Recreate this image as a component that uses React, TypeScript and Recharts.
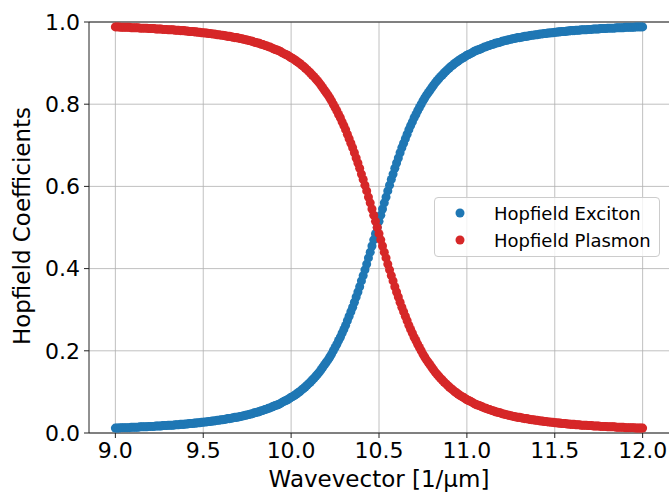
import { ScatterChart, Scatter, XAxis, YAxis, ZAxis, CartesianGrid, Legend, ReferenceLine } from "recharts"

// wavevector samples [1/um]
const wavevector = [
  9.0, 9.01, 9.02, 9.03, 9.04, 9.05, 9.06, 9.07, 9.08, 9.09,
  9.1, 9.11, 9.12, 9.13, 9.14, 9.15, 9.16, 9.17, 9.18, 9.19,
  9.2, 9.21, 9.22, 9.23, 9.24, 9.25, 9.26, 9.27, 9.28, 9.29,
  9.3, 9.31, 9.32, 9.33, 9.34, 9.35, 9.36, 9.37, 9.38, 9.39,
  9.4, 9.41, 9.42, 9.43, 9.44, 9.45, 9.46, 9.47, 9.48, 9.49,
  9.5, 9.51, 9.52, 9.53, 9.54, 9.55, 9.56, 9.57, 9.58, 9.59,
  9.6, 9.61, 9.62, 9.63, 9.64, 9.65, 9.66, 9.67, 9.68, 9.69,
  9.7, 9.71, 9.72, 9.73, 9.74, 9.75, 9.76, 9.77, 9.78, 9.79,
  9.8, 9.81, 9.82, 9.83, 9.84, 9.85, 9.86, 9.87, 9.88, 9.89,
  9.9, 9.91, 9.92, 9.93, 9.94, 9.95, 9.96, 9.97, 9.98, 9.99,
  10.0, 10.01, 10.02, 10.03, 10.04, 10.05, 10.06, 10.07, 10.08, 10.09,
  10.1, 10.11, 10.12, 10.13, 10.14, 10.15, 10.16, 10.17, 10.18, 10.19,
  10.2, 10.21, 10.22, 10.23, 10.24, 10.25, 10.26, 10.27, 10.28, 10.29,
  10.3, 10.31, 10.32, 10.33, 10.34, 10.35, 10.36, 10.37, 10.38, 10.39,
  10.4, 10.41, 10.42, 10.43, 10.44, 10.45, 10.46, 10.47, 10.48, 10.49,
  10.5, 10.51, 10.52, 10.53, 10.54, 10.55, 10.56, 10.57, 10.58, 10.59,
  10.6, 10.61, 10.62, 10.63, 10.64, 10.65, 10.66, 10.67, 10.68, 10.69,
  10.7, 10.71, 10.72, 10.73, 10.74, 10.75, 10.76, 10.77, 10.78, 10.79,
  10.8, 10.81, 10.82, 10.83, 10.84, 10.85, 10.86, 10.87, 10.88, 10.89,
  10.9, 10.91, 10.92, 10.93, 10.94, 10.95, 10.96, 10.97, 10.98, 10.99,
  11.0, 11.01, 11.02, 11.03, 11.04, 11.05, 11.06, 11.07, 11.08, 11.09,
  11.1, 11.11, 11.12, 11.13, 11.14, 11.15, 11.16, 11.17, 11.18, 11.19,
  11.2, 11.21, 11.22, 11.23, 11.24, 11.25, 11.26, 11.27, 11.28, 11.29,
  11.3, 11.31, 11.32, 11.33, 11.34, 11.35, 11.36, 11.37, 11.38, 11.39,
  11.4, 11.41, 11.42, 11.43, 11.44, 11.45, 11.46, 11.47, 11.48, 11.49,
  11.5, 11.51, 11.52, 11.53, 11.54, 11.55, 11.56, 11.57, 11.58, 11.59,
  11.6, 11.61, 11.62, 11.63, 11.64, 11.65, 11.66, 11.67, 11.68, 11.69,
  11.7, 11.71, 11.72, 11.73, 11.74, 11.75, 11.76, 11.77, 11.78, 11.79,
  11.8, 11.81, 11.82, 11.83, 11.84, 11.85, 11.86, 11.87, 11.88, 11.89,
  11.9, 11.91, 11.92, 11.93, 11.94, 11.95, 11.96, 11.97, 11.98, 11.99,
  12.0,
]

const hopfieldExciton = [
  0.012, 0.012, 0.012, 0.013, 0.013, 0.013, 0.013, 0.013, 0.013, 0.014,
  0.014, 0.014, 0.014, 0.014, 0.015, 0.015, 0.015, 0.015, 0.015, 0.016,
  0.016, 0.016, 0.016, 0.017, 0.017, 0.017, 0.017, 0.018, 0.018, 0.018,
  0.019, 0.019, 0.019, 0.019, 0.02, 0.02, 0.02, 0.021, 0.021, 0.021,
  0.022, 0.022, 0.023, 0.023, 0.023, 0.024, 0.024, 0.025, 0.025, 0.026,
  0.026, 0.027, 0.027, 0.028, 0.028, 0.029, 0.029, 0.03, 0.031, 0.031,
  0.032, 0.032, 0.033, 0.034, 0.035, 0.035, 0.036, 0.037, 0.038, 0.038,
  0.039, 0.04, 0.041, 0.042, 0.043, 0.044, 0.045, 0.046, 0.047, 0.049,
  0.05, 0.051, 0.052, 0.054, 0.055, 0.057, 0.058, 0.06, 0.061, 0.063,
  0.065, 0.067, 0.068, 0.07, 0.072, 0.075, 0.077, 0.079, 0.081, 0.084,
  0.087, 0.089, 0.092, 0.095, 0.098, 0.101, 0.105, 0.108, 0.112, 0.116,
  0.12, 0.124, 0.129, 0.133, 0.138, 0.143, 0.148, 0.154, 0.16, 0.166,
  0.172, 0.178, 0.185, 0.192, 0.2, 0.208, 0.216, 0.225, 0.233, 0.243,
  0.252, 0.262, 0.273, 0.284, 0.295, 0.306, 0.318, 0.331, 0.343, 0.356,
  0.37, 0.383, 0.397, 0.411, 0.426, 0.44, 0.455, 0.47, 0.485, 0.5,
  0.515, 0.53, 0.545, 0.56, 0.574, 0.589, 0.603, 0.617, 0.63, 0.644,
  0.657, 0.669, 0.682, 0.694, 0.705, 0.716, 0.727, 0.738, 0.748, 0.757,
  0.767, 0.775, 0.784, 0.792, 0.8, 0.808, 0.815, 0.822, 0.828, 0.834,
  0.84, 0.846, 0.852, 0.857, 0.862, 0.867, 0.871, 0.876, 0.88, 0.884,
  0.888, 0.892, 0.895, 0.899, 0.902, 0.905, 0.908, 0.911, 0.913, 0.916,
  0.919, 0.921, 0.923, 0.925, 0.928, 0.93, 0.932, 0.933, 0.935, 0.937,
  0.939, 0.94, 0.942, 0.943, 0.945, 0.946, 0.948, 0.949, 0.95, 0.951,
  0.953, 0.954, 0.955, 0.956, 0.957, 0.958, 0.959, 0.96, 0.961, 0.962,
  0.962, 0.963, 0.964, 0.965, 0.965, 0.966, 0.967, 0.968, 0.968, 0.969,
  0.969, 0.97, 0.971, 0.971, 0.972, 0.972, 0.973, 0.973, 0.974, 0.974,
  0.975, 0.975, 0.976, 0.976, 0.977, 0.977, 0.977, 0.978, 0.978, 0.979,
  0.979, 0.979, 0.98, 0.98, 0.98, 0.981, 0.981, 0.981, 0.981, 0.982,
  0.982, 0.982, 0.983, 0.983, 0.983, 0.983, 0.984, 0.984, 0.984, 0.984,
  0.985, 0.985, 0.985, 0.985, 0.985, 0.986, 0.986, 0.986, 0.986, 0.986,
  0.987, 0.987, 0.987, 0.987, 0.987, 0.987, 0.988, 0.988, 0.988, 0.988,
  0.988,
]

const hopfieldPlasmon = [
  0.988, 0.988, 0.988, 0.987, 0.987, 0.987, 0.987, 0.987, 0.987, 0.986,
  0.986, 0.986, 0.986, 0.986, 0.985, 0.985, 0.985, 0.985, 0.985, 0.984,
  0.984, 0.984, 0.984, 0.983, 0.983, 0.983, 0.983, 0.982, 0.982, 0.982,
  0.981, 0.981, 0.981, 0.981, 0.98, 0.98, 0.98, 0.979, 0.979, 0.979,
  0.978, 0.978, 0.977, 0.977, 0.977, 0.976, 0.976, 0.975, 0.975, 0.974,
  0.974, 0.973, 0.973, 0.972, 0.972, 0.971, 0.971, 0.97, 0.969, 0.969,
  0.968, 0.968, 0.967, 0.966, 0.965, 0.965, 0.964, 0.963, 0.962, 0.962,
  0.961, 0.96, 0.959, 0.958, 0.957, 0.956, 0.955, 0.954, 0.953, 0.951,
  0.95, 0.949, 0.948, 0.946, 0.945, 0.943, 0.942, 0.94, 0.939, 0.937,
  0.935, 0.933, 0.932, 0.93, 0.928, 0.925, 0.923, 0.921, 0.919, 0.916,
  0.913, 0.911, 0.908, 0.905, 0.902, 0.899, 0.895, 0.892, 0.888, 0.884,
  0.88, 0.876, 0.871, 0.867, 0.862, 0.857, 0.852, 0.846, 0.84, 0.834,
  0.828, 0.822, 0.815, 0.808, 0.8, 0.792, 0.784, 0.775, 0.767, 0.757,
  0.748, 0.738, 0.727, 0.716, 0.705, 0.694, 0.682, 0.669, 0.657, 0.644,
  0.63, 0.617, 0.603, 0.589, 0.574, 0.56, 0.545, 0.53, 0.515, 0.5,
  0.485, 0.47, 0.455, 0.44, 0.426, 0.411, 0.397, 0.383, 0.37, 0.356,
  0.343, 0.331, 0.318, 0.306, 0.295, 0.284, 0.273, 0.262, 0.252, 0.243,
  0.233, 0.225, 0.216, 0.208, 0.2, 0.192, 0.185, 0.178, 0.172, 0.166,
  0.16, 0.154, 0.148, 0.143, 0.138, 0.133, 0.129, 0.124, 0.12, 0.116,
  0.112, 0.108, 0.105, 0.101, 0.098, 0.095, 0.092, 0.089, 0.087, 0.084,
  0.081, 0.079, 0.077, 0.075, 0.072, 0.07, 0.068, 0.067, 0.065, 0.063,
  0.061, 0.06, 0.058, 0.057, 0.055, 0.054, 0.052, 0.051, 0.05, 0.049,
  0.047, 0.046, 0.045, 0.044, 0.043, 0.042, 0.041, 0.04, 0.039, 0.038,
  0.038, 0.037, 0.036, 0.035, 0.035, 0.034, 0.033, 0.032, 0.032, 0.031,
  0.031, 0.03, 0.029, 0.029, 0.028, 0.028, 0.027, 0.027, 0.026, 0.026,
  0.025, 0.025, 0.024, 0.024, 0.023, 0.023, 0.023, 0.022, 0.022, 0.021,
  0.021, 0.021, 0.02, 0.02, 0.02, 0.019, 0.019, 0.019, 0.019, 0.018,
  0.018, 0.018, 0.017, 0.017, 0.017, 0.017, 0.016, 0.016, 0.016, 0.016,
  0.015, 0.015, 0.015, 0.015, 0.015, 0.014, 0.014, 0.014, 0.014, 0.014,
  0.013, 0.013, 0.013, 0.013, 0.013, 0.013, 0.012, 0.012, 0.012, 0.012,
  0.012,
]

const xTicks = [9.0, 9.5, 10.0, 10.5, 11.0, 11.5, 12.0]
const yTicks = [0.0, 0.2, 0.4, 0.6, 0.8, 1.0]

const COLORS = {
  exciton: "#1f77b4",
  plasmon: "#d62728",
}

const FONT = "DejaVu Sans, sans-serif"

const excitonData = wavevector.map((k, i) => ({ k, h: hopfieldExciton[i] }))
const plasmonData = wavevector.map((k, i) => ({ k, h: hopfieldPlasmon[i] }))

const legendItems = [
  { name: "Hopfield Exciton", color: COLORS.exciton },
  { name: "Hopfield Plasmon", color: COLORS.plasmon },
]

function LegendBox() {
  return (
    <div
      style={{
        width: 224,
        height: 58,
        border: "1px solid #cccccc",
        borderRadius: 4,
        background: "rgba(255,255,255,0.8)",
        fontFamily: FONT,
        fontSize: 18,
        color: "#000",
        position: "relative",
      }}
    >
      {legendItems.map((item, i) => (
        <div key={item.name} style={{ position: "absolute", left: 0, top: 3 + i * 27, height: 24, display: "flex", alignItems: "center" }}>
          <svg width={59} height={24}>
            <circle cx={25} cy={12} r={4.5} fill={item.color} />
          </svg>
          <span style={{ whiteSpace: "nowrap" }}>{item.name}</span>
        </div>
      ))}
    </div>
  )
}

const tickStyle = { fill: "#000", fontSize: 22, fontFamily: FONT }

export default function App() {
  return (
    <div style={{ position: "absolute", left: 0, top: 0, width: 670, height: 493, background: "#fff" }}>
      <ScatterChart width={670} height={493} margin={{ top: 22, right: 1, bottom: 0, left: 0 }}>
        <CartesianGrid stroke="#b0b0b0" strokeWidth={0.8} horizontalValues={yTicks} verticalValues={xTicks} />
        <XAxis
          dataKey="k"
          type="number"
          domain={[8.85, 12.15]}
          ticks={xTicks}
          tickFormatter={(v: number) => v.toFixed(1)}
          height={60}
          tickSize={5}
          tickMargin={4}
          stroke="#222"
          tick={tickStyle}
          allowDataOverflow
          label={{
            content: () => (
              <text x={379} y={487} textAnchor="middle" fontSize={23} fontFamily={FONT} fill="#000">
                Wavevector [1/μm]
              </text>
            ),
          }}
        />
        <YAxis
          dataKey="h"
          type="number"
          domain={[0, 1]}
          ticks={yTicks}
          tickFormatter={(v: number) => v.toFixed(1)}
          width={89}
          tickSize={5}
          tickMargin={4}
          stroke="#222"
          tick={tickStyle}
          allowDataOverflow
          label={{
            content: () => (
              <text transform="translate(30,226) rotate(-90)" textAnchor="middle" fontSize={23} fontFamily={FONT} fill="#000">
                Hopfield Coefficients
              </text>
            ),
          }}
        />
        <YAxis yAxisId="right" orientation="right" type="number" domain={[0, 1]} tick={false} tickLine={false} width={0} stroke="#222" />
        <ZAxis range={[55, 55]} />
        <ReferenceLine y={1} stroke="#222" strokeWidth={1} ifOverflow="visible" />
        <Scatter name="Hopfield Exciton" data={excitonData} fill={COLORS.exciton} isAnimationActive={false} />
        <Scatter name="Hopfield Plasmon" data={plasmonData} fill={COLORS.plasmon} isAnimationActive={false} />
        <Legend
          layout="vertical"
          align="center"
          verticalAlign="middle"
          wrapperStyle={{ left: 434, top: 197, width: 226 }}
          content={() => <LegendBox />}
        />
      </ScatterChart>
    </div>
  )
}
